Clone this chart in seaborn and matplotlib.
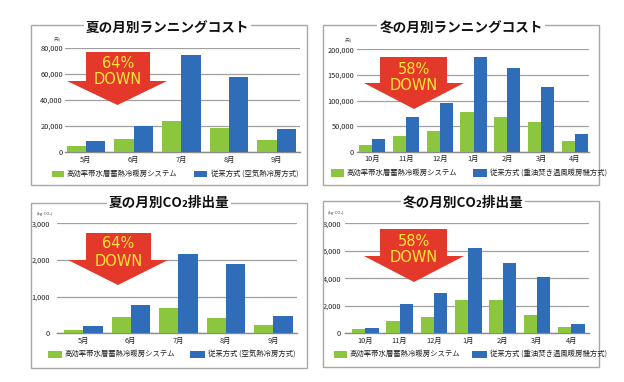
import matplotlib
matplotlib.use("Agg")
import matplotlib.pyplot as plt
from matplotlib.patches import Rectangle, Polygon
import seaborn as sns
import pandas as pd

sns.set_style("white")
plt.rcParams['font.family'] = ['Noto Sans CJK JP', 'DejaVu Sans']

# ---------------- data ----------------
summer_months = ["5月", "6月", "7月", "8月", "9月"]
winter_months = ["10月", "11月", "12月", "1月", "2月", "3月", "4月"]

new_label = "高効率帯水層蓄熱冷暖房システム"
old_label_summer = "従来方式 (空気熱冷房方式)"
old_label_winter = "従来方式 (重油焚き温風暖房機方式)"

summer_cost_new = [4500, 10300, 23600, 18500, 9500]
summer_cost_old = [8500, 20300, 74400, 57700, 17400]
winter_cost_new = [13700, 30600, 41000, 77500, 68400, 57300, 20800]
winter_cost_old = [24000, 67000, 95800, 184000, 163000, 127000, 34500]
summer_co2_new = [100, 455, 700, 410, 227]
summer_co2_old = [209, 773, 2164, 1900, 464]
winter_co2_new = [315, 920, 1212, 2400, 2424, 1357, 460]
winter_co2_old = [388, 2157, 2909, 6230, 5090, 4121, 679]

titles = ["夏の月別ランニングコスト", "冬の月別ランニングコスト",
          "夏の月別CO₂排出量", "冬の月別CO₂排出量"]
units = ["(円)", "(円)", "(kg-CO₂)", "(kg-CO₂)"]
summer_cost_ticks = [0, 20000, 40000, 60000, 80000]
winter_cost_ticks = [0, 50000, 100000, 150000, 200000]
summer_co2_ticks = [0, 1000, 2000, 3000]
winter_co2_ticks = [0, 2000, 4000, 6000, 8000]
reductions = ["64%", "58%", "64%", "58%"]

GREEN = "#8cc63f"
BLUE = "#2f6db8"
RED = "#e4382a"
YELLOW = "#ffe83a"

W, H = 624, 382
fig = plt.figure(figsize=(W / 100, H / 100), dpi=100)
fig.patch.set_facecolor("white")


def fx(px):
    return px / W


def fy(py):
    return 1 - py / H


panels = [
    dict(months=summer_months, new=summer_cost_new, old=summer_cost_old, old_label=old_label_summer,
         ticks=summer_cost_ticks, gl=(65, 300), centers=(86, 276.7), ytop=48, ybot=152, width=0.81,
         frame=(31, 25, 307, 185), title_xy=(167.5, 29), unit_xy=(57, 40), pad=1.5,
         arrow=dict(sx=(86, 150), top=52, sh=81, wx=(67, 167), tip=(117.5, 105), t1=63, t2=80),
         leg=dict(y=174, g=(52, 64), gt=67, b=(194, 207), bt=211)),
    dict(months=winter_months, new=winter_cost_new, old=winter_cost_old, old_label=old_label_winter,
         ticks=winter_cost_ticks, gl=(357, 589), centers=(372, 575), ytop=49.3, ybot=151.7, width=0.77,
         frame=(323, 25, 599, 185), title_xy=(461, 29), unit_xy=(348, 41), pad=2,
         arrow=dict(sx=(380, 447), top=57, sh=83, wx=(364, 464), tip=(414, 109), t1=70, t2=86),
         leg=dict(y=173, g=(331, 344), gt=347, b=(473, 487), bt=490)),
    dict(months=summer_months, new=summer_co2_new, old=summer_co2_old, old_label=old_label_summer,
         ticks=summer_co2_ticks, gl=(57, 296.5), centers=(83.3, 273.3), ytop=223.3, ybot=333.3, width=0.81,
         frame=(31, 203, 307, 368), title_xy=(169, 203), unit_xy=(45, 214), pad=5,
         arrow=dict(sx=(86, 151), top=233, sh=260, wx=(68, 168), tip=(118, 285), t1=244, t2=262),
         leg=dict(y=354, g=(48, 62), gt=65, b=(190, 205), bt=208)),
    dict(months=winter_months, new=winter_co2_new, old=winter_co2_old, old_label=old_label_winter,
         ticks=winter_co2_ticks, gl=(345.3, 588.7), centers=(365.3, 571.3), ytop=223.3, ybot=333.3, width=0.78,
         frame=(323, 201, 599, 367), title_xy=(463, 203), unit_xy=(336, 213), pad=3,
         arrow=dict(sx=(380, 447), top=229, sh=256, wx=(364, 464), tip=(414, 282), t1=241, t2=258),
         leg=dict(y=354, g=(334, 347), gt=350, b=(472, 487), bt=490)),
]

for i, p in enumerate(panels):
    # frame
    x0, y0, x1, y1 = p["frame"]
    fig.add_artist(Rectangle((fx(x0), fy(y1)), fx(x1) - fx(x0), fy(y0) - fy(y1),
                             transform=fig.transFigure, fill=False, edgecolor="#a8a8a8",
                             linewidth=1.0, zorder=0.5))

    gl0, gl1 = p["gl"]
    ax = fig.add_axes([fx(gl0), fy(p["ybot"]), fx(gl1) - fx(gl0), fy(p["ytop"]) - fy(p["ybot"])])
    n = len(p["months"])
    df = pd.DataFrame({
        "month": p["months"] * 2,
        "value": list(p["new"]) + list(p["old"]),
        "system": [new_label] * n + [p["old_label"]] * n,
    })
    sns.barplot(data=df, x="month", y="value", hue="system", order=p["months"],
                hue_order=[new_label, p["old_label"]], palette=[GREEN, BLUE],
                width=p["width"], saturation=1, legend=False, ax=ax, zorder=3,
                errorbar=None, linewidth=0, edgecolor="none")
    c0, c1 = p["centers"]
    unit = (c1 - c0) / (n - 1)
    ax.set_xlim(-(c0 - gl0) / unit, (n - 1) + (gl1 - c1) / unit)
    ax.set_ylim(0, p["ticks"][-1])
    ax.set_yticks(p["ticks"])
    ax.set_yticklabels([f"{t:,}" for t in p["ticks"]])
    ax.set_xlabel("")
    ax.set_ylabel("")
    ax.set_facecolor("none")
    for s in ["left", "right", "top"]:
        ax.spines[s].set_visible(False)
    ax.spines["bottom"].set_color("#8a8a8a")
    ax.spines["bottom"].set_linewidth(1.0)
    ax.grid(axis="y", color="#a0a0a0", linewidth=0.9, zorder=0)
    ax.set_axisbelow(True)
    ax.tick_params(axis="y", length=0, pad=p["pad"], labelsize=5.3, labelcolor="#222222")
    ax.tick_params(axis="x", which="major", length=0, pad=2.5, labelsize=5.3, labelcolor="#222222")
    ax.set_xticks([k + 0.5 for k in range(n - 1)], minor=True)
    ax.tick_params(axis="x", which="minor", length=2.5, width=0.6, color="#8a8a8a", direction="out")

    # unit label
    fig.text(fx(p["unit_xy"][0]), fy(p["unit_xy"][1]), units[i], fontsize=3,
             ha="center", va="center", color="#444444")

    # title
    fig.text(fx(p["title_xy"][0]), fy(p["title_xy"][1]), titles[i], fontsize=9.8,
             fontweight="bold", ha="center", va="center", color="#111111", zorder=5,
             bbox=dict(boxstyle="square,pad=0.15", facecolor="white", edgecolor="none"))

    # arrow
    a = p["arrow"]
    pts = [(a["sx"][0], a["top"]), (a["sx"][1], a["top"]), (a["sx"][1], a["sh"]),
           (a["wx"][1], a["sh"]), a["tip"], (a["wx"][0], a["sh"]), (a["sx"][0], a["sh"])]
    fig.add_artist(Polygon([(fx(x), fy(y)) for x, y in pts], closed=True,
                           transform=fig.transFigure, facecolor=RED, edgecolor="none", zorder=6))
    cx = (a["sx"][0] + a["sx"][1]) / 2
    fig.text(fx(cx), fy(a["t1"]), reductions[i], fontsize=10.5, color=YELLOW,
             ha="center", va="center", zorder=7, family="DejaVu Sans")
    fig.text(fx(cx), fy(a["t2"]), "DOWN", fontsize=10.5, color=YELLOW,
             ha="center", va="center", zorder=7, family="DejaVu Sans")

    # legend
    L = p["leg"]
    for (xa, xb), col, tx, lab in [(L["g"], GREEN, L["gt"], new_label),
                                    (L["b"], BLUE, L["bt"], p["old_label"])]:
        fig.add_artist(Rectangle((fx(xa), fy(L["y"] + 3.5)), fx(xb) - fx(xa), fy(L["y"] - 3.5) - fy(L["y"] + 3.5),
                                 transform=fig.transFigure, facecolor=col, edgecolor="none", zorder=4))
        fig.text(fx(tx), fy(L["y"]), lab, fontsize=5.3, ha="left", va="center", color="#222222")

fig.savefig("out.png", dpi=100, facecolor="white")
